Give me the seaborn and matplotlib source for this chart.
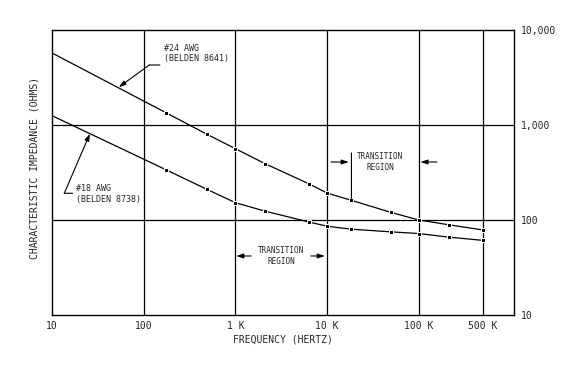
import numpy as np
import pandas as pd
import seaborn as sns
from matplotlib import pyplot as plt

# frequency points (Hz), shared by both cables
freq = [10, 175, 490, 1000, 2100, 6400, 10000, 18400, 50000, 100000, 213000, 500000]
awg24 = [5730, 1346, 798, 563, 392, 239, 192, 161, 120, 100, 89, 78.5]   # Belden 8641
awg18 = [1253, 338, 210, 152, 124, 95, 86, 80, 75, 72, 66, 61]         # Belden 8738

xticks = [10, 100, 1000, 10000, 100000, 500000]
xticklabels = ["10", "100", "1 K", "10 K", "100 K", "500 K"]
yticks = [10, 100, 1000, 10000]
yticklabels = ["10", "100", "1,000", "10,000"]

sns.set_style("white")
plt.rcParams['font.family'] = ['DejaVu Sans Mono']

df = pd.DataFrame({"freq": freq * 2,
                   "z": awg24 + awg18,
                   "cable": ["24"] * len(freq) + ["18"] * len(freq)})

fig = plt.figure(figsize=(5.84, 3.74), dpi=100)
ax = fig.add_axes([52 / 584, 1 - 315 / 374, 462 / 584, 285 / 374])

marks = list(range(1, len(freq)))  # no marker on the first (edge) point
for name in ["24", "18"]:
    sns.lineplot(data=df[df.cable == name], x="freq", y="z", ax=ax,
                 color="black", linewidth=0.9, estimator=None,
                 marker="s", markersize=3, markevery=marks, legend=False)

ax.set_xscale("log")
ax.set_yscale("log")
ax.set_xlim(10, 1.09e6)
ax.set_ylim(10, 10000)

# grid lines only at labelled positions
for x in xticks[1:]:
    ax.axvline(x, color="black", linewidth=0.9, zorder=0)
for y in [100, 1000]:
    ax.axhline(y, color="black", linewidth=0.9, zorder=0)

ax.set_xticks(xticks)
ax.set_xticklabels(xticklabels, fontsize=7)
ax.xaxis.set_minor_locator(plt.NullLocator())
ax.yaxis.tick_right()
ax.set_yticks(yticks)
ax.set_yticklabels(yticklabels, fontsize=7)
ax.yaxis.set_minor_locator(plt.NullLocator())
ax.tick_params(length=0, pad=4)
ax.tick_params(axis="y", pad=5)

ax.set_xlabel("FREQUENCY (HERTZ)", fontsize=7, labelpad=3)
ax.set_ylabel("")
fig.text(35 / 584, 1 - 168 / 374, "CHARACTERISTIC IMPEDANCE (OHMS)",
         rotation=90, fontsize=7, ha="center", va="center")

for s in ax.spines.values():
    s.set_color("black")
    s.set_linewidth(1.0)
    s.set_visible(True)

arrow = dict(arrowstyle="-|>,head_length=0.6,head_width=0.2", color="black",
             linewidth=0.8, mutation_scale=7, shrinkA=0, shrinkB=0)
plain = dict(arrowstyle="-", color="black", linewidth=0.8, shrinkA=0, shrinkB=0)

# cable labels with leaders
ax.text(168, 5660, "#24 AWG\n(BELDEN 8641)", fontsize=6, va="center", ha="left")
ax.annotate("", xy=(115, 4280), xytext=(150, 4280), arrowprops=plain)
ax.annotate("", xy=(53.5, 2500), xytext=(115, 4280), arrowprops=arrow)

ax.text(18.1, 188, "#18 AWG\n(BELDEN 8738)", fontsize=6, va="center", ha="left")
ax.annotate("", xy=(16.8, 191), xytext=(13.6, 191), arrowprops=plain)
ax.annotate("", xy=(25.9, 809), xytext=(13.6, 191), arrowprops=arrow)

# transition region, #24 cable
ax.text(38000, 408, "TRANSITION\nREGION", fontsize=5.5, ha="center", va="center",
        multialignment="center")
ax.annotate("", xy=(18400, 161), xytext=(18400, 507), arrowprops=plain)
ax.annotate("", xy=(17200, 408), xytext=(11000, 408), arrowprops=arrow)
ax.annotate("", xy=(104000, 408), xytext=(157000, 408), arrowprops=arrow)

# transition region, #18 cable
ax.text(3140, 41.8, "TRANSITION\nREGION", fontsize=5.5, ha="center", va="center",
        multialignment="center")
ax.annotate("", xy=(1020, 41.8), xytext=(1480, 41.8), arrowprops=arrow)
ax.annotate("", xy=(9440, 41.8), xytext=(6650, 41.8), arrowprops=arrow)

fig.savefig("out.png", dpi=100)
